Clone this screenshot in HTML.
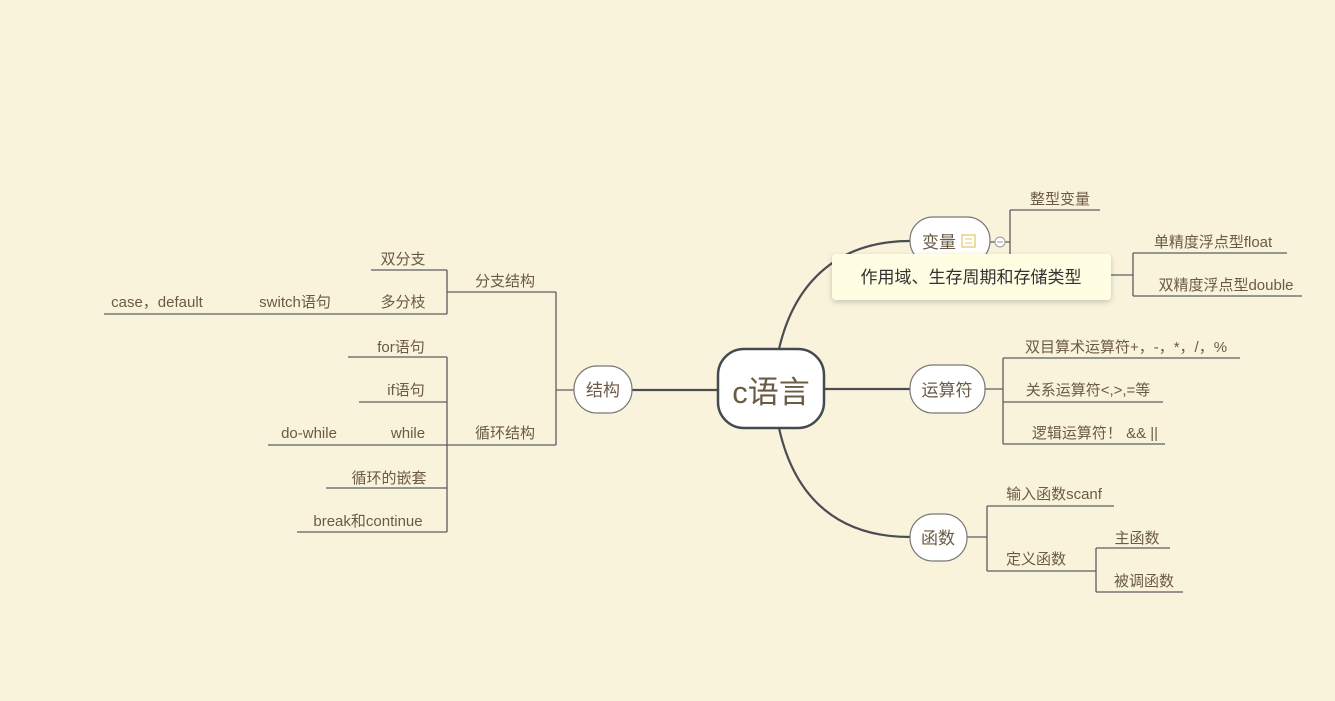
<!DOCTYPE html>
<html><head><meta charset="utf-8"><style>
html,body{margin:0;padding:0;background:#faf3dc;}
svg{display:block;}
text{font-family:"Liberation Sans","Noto Sans CJK SC",sans-serif;fill:#6b5a45;}
</style></head><body>
<svg width="1335" height="701" viewBox="0 0 1335 701" xmlns="http://www.w3.org/2000/svg">
<defs><filter id="sh" x="-10%" y="-20%" width="120%" height="160%"><feDropShadow dx="0" dy="2" stdDeviation="3" flood-color="#000" flood-opacity="0.2"/></filter></defs>
<g fill="none" stroke="#4a4d52" stroke-width="2.2">
<path d="M632 390H718"/>
<path d="M824 389H910"/>
<path d="M779 349C795 280 840 241 910 241"/>
<path d="M779 428C795 500 840 537 910 537"/>
</g>
<g fill="none" stroke="#5a5d62" stroke-width="1.3">
<path d="M574 390H556M556 292V445"/>
<path d="M556 292H447M556 445H268"/>
<path d="M447 270V314M447 270H371M447 314H104"/>
<path d="M447 357V532M447 357H348M447 402H359M447 488H326M447 532H297"/>
<path d="M990 242H1010M1010 210V270M1010 210H1100"/>
<path d="M1111 275H1133M1133 253V296M1133 253H1287M1133 296H1302"/>
<path d="M985 389H1003M1003 358V444M1003 358H1240M1003 402H1163M1003 444H1165"/>
<path d="M967 537H987M987 506V571M987 506H1114M987 571H1096M1096 548V592M1096 548H1170M1096 592H1183"/>
</g>
<rect x="718" y="349" width="106" height="79" rx="26" fill="#fff" stroke="#444a50" stroke-width="2.5"/>
<text x="771" y="403" font-size="31" text-anchor="middle">c语言</text>
<g fill="#fff" stroke="#777" stroke-width="1.2">
<rect x="574" y="366" width="58" height="47" rx="23"/>
<rect x="910" y="217" width="80" height="47" rx="23"/>
<rect x="910" y="365" width="75" height="48" rx="23"/>
<rect x="910" y="514" width="57" height="47" rx="23"/>
</g>
<circle cx="1000" cy="242" r="5" fill="#fff" stroke="#999" stroke-width="1"/>
<path d="M997 242H1003" stroke="#999"/>
<rect x="962" y="235" width="13" height="12" fill="none" stroke="#e8c870" stroke-width="1.3"/>
<path d="M965 239H972M965 243H972" stroke="#e8c870"/>
<g font-size="17" text-anchor="middle">
<text x="603" y="396">结构</text>
<text x="939" y="248">变量</text>
<text x="947" y="396">运算符</text>
<text x="938" y="544">函数</text>
</g>
<rect x="832" y="254" width="279" height="46" rx="4" fill="#fffde2" filter="url(#sh)"/>
<text x="971" y="283" font-size="17" text-anchor="middle" style="fill:#333">作用域、生存周期和存储类型</text>
<g font-size="15" text-anchor="middle">
<text x="505" y="286">分支结构</text>
<text x="505" y="438">循环结构</text>
<text x="403" y="264">双分支</text>
<text x="403" y="307">多分枝</text>
<text x="295" y="307">switch语句</text>
<text x="157" y="307">case，default</text>
<text x="401" y="352">for语句</text>
<text x="406" y="395">if语句</text>
<text x="408" y="438">while</text>
<text x="309" y="438">do-while</text>
<text x="389" y="483">循环的嵌套</text>
<text x="368" y="526">break和continue</text>
<text x="1060" y="204">整型变量</text>
<text x="1213" y="247">单精度浮点型float</text>
<text x="1226" y="290">双精度浮点型double</text>
<text x="1126" y="352">双目算术运算符+，-，*，/，%</text>
<text x="1088" y="395">关系运算符&lt;,&gt;,=等</text>
<text x="1095" y="438">逻辑运算符！ &amp;&amp; ||</text>
<text x="1054" y="499">输入函数scanf</text>
<text x="1036" y="564">定义函数</text>
<text x="1137" y="543">主函数</text>
<text x="1144" y="586">被调函数</text>
</g>
</svg>
</body></html>
